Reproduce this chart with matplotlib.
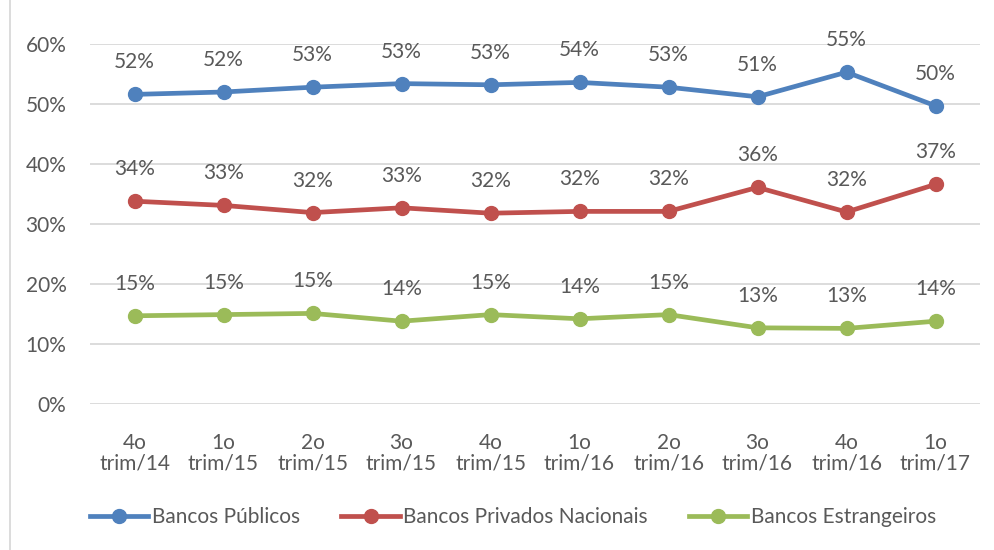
import matplotlib
matplotlib.use("Agg")
import matplotlib.pyplot as plt
from matplotlib.lines import Line2D

categories = ["4o\ntrim/14", "1o\ntrim/15", "2o\ntrim/15", "3o\ntrim/15", "4o\ntrim/15",
              "1o\ntrim/16", "2o\ntrim/16", "3o\ntrim/16", "4o\ntrim/16", "1o\ntrim/17"]
publicos = [51.6, 52.0, 52.8, 53.4, 53.2, 53.6, 52.8, 51.2, 55.3, 49.7]
privados = [33.8, 33.1, 31.9, 32.7, 31.8, 32.1, 32.1, 36.1, 32.0, 36.6]
estrangeiros = [14.7, 14.9, 15.1, 13.8, 14.9, 14.2, 14.9, 12.7, 12.6, 13.8]
series_names = ["Bancos Públicos", "Bancos Privados Nacionais", "Bancos Estrangeiros"]
yticks = [0, 10, 20, 30, 40, 50, 60]

colors = ["#4F81BD", "#C0504D", "#9BBB59"]
txt = "#595959"
fs = 15
plt.rcParams['font.family'] = ['Lato', 'DejaVu Sans']

fig = plt.figure(figsize=(9.94, 5.5), dpi=100)
ax = fig.add_axes([90/994, 1-404/550, 890/994, 360/550])
x = list(range(len(categories)))
for vals, c, name in zip([publicos, privados, estrangeiros], colors, series_names):
    ax.plot(x, vals, color=c, lw=3.4, marker='o', ms=10, label=name, solid_capstyle='round', zorder=3)
    for xi, v in zip(x, vals):
        ax.annotate(f"{v:.0f}%", (xi, v), xytext=(0, 23), textcoords='offset points',
                    ha='center', va='center', fontsize=fs, color=txt)

ax.set_xlim(-0.5, len(categories) - 0.5)
ax.set_ylim(0, 60)
ax.set_yticks(yticks)
ax.set_yticklabels([f"{t}%" for t in yticks])
ax.set_xticks(x)
ax.set_xticklabels(categories, fontsize=fs, color=txt, linespacing=1.05)
ax.tick_params(axis='y', labelsize=fs, labelcolor=txt, length=0, pad=17)
ax.tick_params(axis='x', length=0, pad=21)
ax.grid(axis='y', color='#D9D9D9', lw=1.3)
ax.set_axisbelow(True)
for s in ax.spines.values():
    s.set_visible(False)

fig.add_artist(Line2D([10/994, 10/994], [0, 1], color='#D9D9D9', lw=1.3))

handles = [Line2D([], [], color=c, lw=3.4, marker='o', ms=10) for c in colors]
fig.legend(handles, series_names, loc='center', bbox_to_anchor=(513/994, 1-517/550), ncol=3,
           frameon=False, fontsize=fs, labelcolor=txt, handlelength=2.8, handletextpad=0.15,
           columnspacing=2.0)

fig.savefig("out.png", dpi=100)
